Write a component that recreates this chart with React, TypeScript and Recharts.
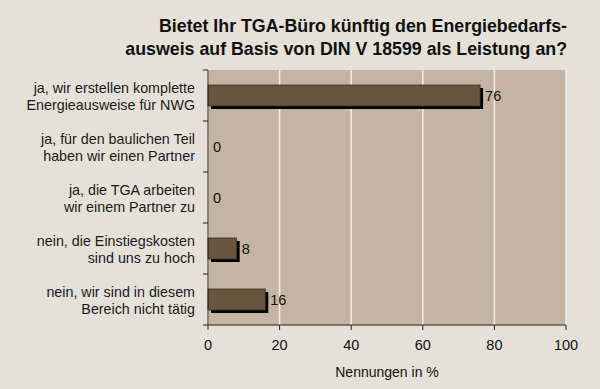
import React from 'react';
import { BarChart, Bar, XAxis, YAxis, CartesianGrid, LabelList } from 'recharts';

const answers = [
  'ja, wir erstellen komplette|Energieausweise für NWG',
  'ja, für den baulichen Teil|haben wir einen Partner',
  'ja, die TGA arbeiten|wir einem Partner zu',
  'nein, die Einstiegskosten|sind uns zu hoch',
  'nein, wir sind in diesem|Bereich nicht tätig',
];
const shares = [76, 0, 0, 8, 16];
const xTicks = [0, 20, 40, 60, 80, 100];

const data = answers.map((answer, i) => ({ answer, share: shares[i] }));

const font = '"Liberation Sans", Arial, Helvetica, sans-serif';

const ShadowBar = (props: any) => {
  const { x, y, width, height } = props;
  if (!width || width <= 0) return null;
  return (
    <g>
      <rect x={x + 3} y={y + 3} width={width} height={height} fill="#000" />
      <rect x={x} y={y} width={width} height={height} fill="#66563f" stroke="#3a2f22" strokeWidth={0.8} />
    </g>
  );
};

const CategoryTick = (props: any) => {
  const { x, y, payload, index } = props;
  const lines = String(payload.value).split('|');
  const band = 51;
  return (
    <g>
      <line x1={x + 3} x2={x + 8} y1={y - band / 2} y2={y - band / 2} stroke="#222" />
      {index === answers.length - 1 && (
        <line x1={x + 3} x2={x + 8} y1={y + band / 2} y2={y + band / 2} stroke="#222" />
      )}
      {lines.map((l, i) => (
        <text key={i} x={x - 5} y={y - 3 + i * 17} textAnchor="end" fontSize={14.3} fill="#1a1a1a" fontFamily={font}>
          {l}
        </text>
      ))}
    </g>
  );
};

export default function App() {
  return (
    <div style={{ position: 'absolute', left: 0, top: 0, width: 600, height: 389, background: '#e5e1d9', fontFamily: font }}>
      <div style={{ position: 'absolute', right: 33, top: 15, textAlign: 'right', fontWeight: 'bold', fontSize: 17.8, lineHeight: '23px', color: '#111', whiteSpace: 'nowrap' }}>
        Bietet Ihr TGA-Büro künftig den Energiebedarfs-
        <br />
        ausweis auf Basis von DIN V 18599 als Leistung an?
      </div>
      <BarChart
        width={600}
        height={389}
        data={data}
        layout="vertical"
        margin={{ top: 70, right: 34, left: 0, bottom: 0 }}
        barCategoryGap={15}
      >
        <CartesianGrid horizontal={false} vertical stroke="#f3efe6" strokeWidth={1.5} fill="#c4b4a1" />
        <XAxis
          type="number"
          dataKey="share"
          domain={[0, 100]}
          ticks={xTicks}
          height={64}
          tickSize={5}
          tickMargin={10}
          axisLine={{ stroke: '#222' }}
          tickLine={{ stroke: '#222' }}
          tick={{ fontSize: 14.5, fill: '#111', fontFamily: font }}
          label={{ value: 'Nennungen in %', position: 'insideBottom', offset: 12, fontSize: 14, fill: '#111', fontFamily: font }}
        />
        <XAxis xAxisId="top" orientation="top" type="number" domain={[0, 100]} height={0} tick={false} tickLine={false} axisLine={{ stroke: '#333' }} />
        <YAxis
          type="category"
          dataKey="answer"
          width={208}
          axisLine={{ stroke: '#222' }}
          tickLine={false}
          tick={<CategoryTick />}
          interval={0}
        />
        <YAxis yAxisId="right" orientation="right" type="category" dataKey="answer" width={0} tick={false} tickLine={false} axisLine={{ stroke: '#333' }} />
        <Bar dataKey="share" shape={<ShadowBar />} isAnimationActive={false} barSize={21}>
          <LabelList dataKey="share" position="right" offset={5} fontSize={14.5} fill="#111" fontFamily={font} />
        </Bar>
      </BarChart>
    </div>
  );
}
